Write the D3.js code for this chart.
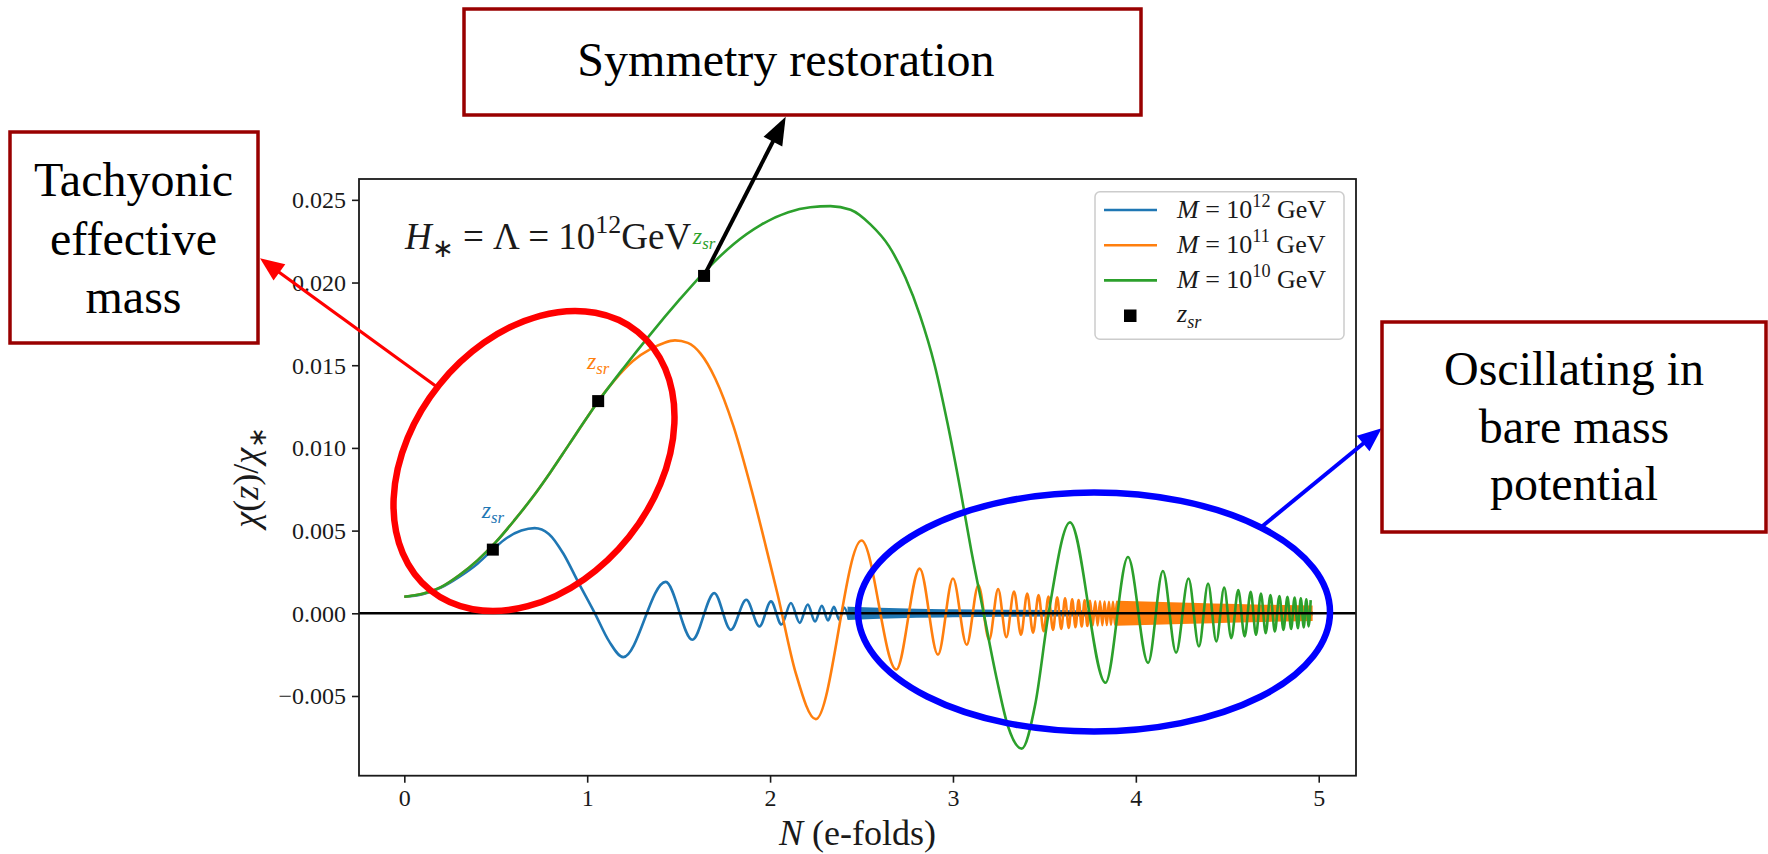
<!DOCTYPE html>
<html><head><meta charset="utf-8">
<script src="https://cdn.jsdelivr.net/npm/d3@7"></script>
<style>body{margin:0;background:#fff} svg{display:block} text{font-family:'Liberation Serif','Times New Roman',serif}</style>
</head><body>
<svg id="chart" width="1768" height="854"></svg>
<script>
// ---------------- DATA ----------------
const xTicks = [0, 1, 2, 3, 4, 5];
const yTicks = [-0.005, 0, 0.005, 0.010, 0.015, 0.020, 0.025];
const yTickLabels = ["\u22120.005", "0.000", "0.005", "0.010", "0.015", "0.020", "0.025"];
const seriesExponents = ["12", "11", "10"];
const seriesColors = ["#1f77b4", "#ff7f0e", "#2ca02c"];

// M = 10^12 GeV  [N, chi/chi*]
const blueCurve = [[0,0.0010],[0.1,0.00115],[0.2,0.00155],[0.3,0.0022],[0.4,0.0030],[0.484,0.00385],[0.56,0.00455],[0.64,0.0050],[0.713,0.00515],[0.79,0.0048],[0.87,0.0036],[0.95,0.0019],[1.042,0.0],[1.12,-0.0017],[1.197,-0.00265],
 [1.429,0.0019],[1.575,-0.0016],[1.695,0.00122],[1.785,-0.0010],[1.870,0.00082],[1.942,-0.00080],[2.005,0.00072],[2.062,-0.00068],[2.114,0.00062],[2.162,-0.00058],[2.206,0.00053],[2.246,-0.0005],[2.283,0.00046],[2.317,-0.00043],[2.349,0.0004],[2.378,-0.00038],[2.405,0.00035],[2.430,-0.00033]];
const blueBandN  = [2.43, 2.6, 2.8, 3.0, 3.3, 3.6, 4.0, 4.5, 4.96];
const blueBandHi = [0.00033,0.00026,0.0002,0.00017,0.00014,0.00012,0.0001,0.00008,0.00007];
const blueBandLo = [-0.00033,-0.00026,-0.0002,-0.00017,-0.00014,-0.00012,-0.0001,-0.00008,-0.00007];

// M = 10^11 GeV
const orangeCurve = [[0,0.0010],[0.1,0.00118],[0.2,0.00158],[0.3,0.0023],[0.4,0.0032],[0.5,0.0043],[0.6,0.0056],[0.7,0.0070],[0.8,0.00855],[0.9,0.0102],[1.0,0.01185],[1.06,0.01283],[1.15,0.0141],[1.25,0.01525],[1.35,0.0160],[1.42,0.01635],[1.48,0.0165],[1.55,0.01635],[1.62,0.0157],[1.70,0.0142],[1.80,0.0113],[1.90,0.0074],[2.0,0.0030],[2.04,0.0012],[2.14,-0.0036],[2.25,-0.0064],
 [2.50,0.0044],[2.69,-0.0034],[2.818,0.0027],[2.918,-0.0025],[3.0,0.0021],[3.075,-0.0019],[3.139,0.0017],[3.198,-0.0016],[3.247,0.00146],[3.292,-0.00145],[3.334,0.00132],[3.372,-0.0013],[3.406,0.0012],[3.438,-0.00118],[3.468,0.0011],[3.496,-0.00108],[3.522,0.00102],[3.547,-0.001],[3.570,0.00096],[3.592,-0.00094],[3.613,0.0009],[3.633,-0.00088],[3.652,0.00085],[3.670,-0.00084],[3.687,0.0008],[3.704,-0.0008],[3.720,0.00078],[3.735,-0.00077],[3.750,0.00075],
 [3.764,-0.00074],[3.778,0.00073],[3.791,-0.00073],[3.804,0.00072],[3.817,-0.00072],[3.829,0.00071],[3.841,-0.00071],[3.853,0.0007],[3.864,-0.0007],[3.875,0.00069],[3.886,-0.00069],[3.896,0.00068],[3.906,-0.00068]];
const orangeBandN  = [3.9, 4.1, 4.3, 4.5, 4.7, 4.96];
const orangeBandHi = [0.00068,0.00062,0.00056,0.0005,0.00045,0.0004];
const orangeBandLo = [-0.00068,-0.00062,-0.00056,-0.0005,-0.00045,-0.0004];

// M = 10^10 GeV
const greenCurve = [[0,0.0010],[0.1,0.00118],[0.2,0.00158],[0.3,0.0023],[0.4,0.0032],[0.5,0.0043],[0.6,0.0056],[0.7,0.0070],[0.8,0.00855],[0.9,0.0102],[1.0,0.01185],[1.06,0.0128],[1.2,0.01485],[1.35,0.01693],[1.5,0.0189],[1.639,0.02062],[1.8,0.02232],[1.95,0.02349],[2.1,0.02425],[2.22,0.02455],[2.33,0.02462],[2.44,0.0244],[2.55,0.0235],[2.65,0.0222],[2.74,0.0203],[2.82,0.0180],[2.90,0.0150],[2.97,0.0115],[3.04,0.0075],[3.10,0.0038],[3.168,0.0],[3.24,-0.0040],[3.30,-0.0068],[3.376,-0.00818],[3.45,-0.0055],[3.523,0.0],[3.64,0.0055],
 [3.834,-0.0042],[3.957,0.0034],[4.067,-0.0030],[4.148,0.00256],[4.22,-0.00238],[4.288,0.0021],[4.345,-0.0020],[4.395,0.0018],[4.44,-0.0017],[4.483,0.00155],[4.522,-0.0015],[4.56,0.0014],[4.595,-0.0014],[4.628,0.0013],[4.657,-0.0013],[4.684,0.0012],[4.71,-0.0012],[4.736,0.0011],[4.76,-0.0011],[4.785,0.00105],[4.807,-0.001],[4.829,0.001],[4.849,-0.00095],[4.868,0.00095],[4.886,-0.0009],[4.902,0.0009],[4.918,-0.00085],[4.932,0.00085],[4.945,-0.0008],[4.956,0.0008]];

// z_sr markers
const zsrN = [0.484, 1.060, 1.639];
const zsrV = [0.00385, 0.01283, 0.0204];

const boxTexts = {
  sym: ["Symmetry restoration"],
  tach: ["Tachyonic", "effective", "mass"],
  osc: ["Oscillating in", "bare mass", "potential"]
};

// ---------------- LAYOUT ----------------
const svg = d3.select("#chart");
const plot = {left: 359, right: 1356, top: 179, bottom: 775.7};
const serif = "'Liberation Serif', 'Times New Roman', serif";
const ink = "#1a1a1a";

const allN = [].concat(blueCurve.map(d=>d[0]), orangeCurve.map(d=>d[0]), greenCurve.map(d=>d[0]));
const allV = [].concat(blueCurve.map(d=>d[1]), orangeCurve.map(d=>d[1]), greenCurve.map(d=>d[1]));
const [nMin, nMax] = d3.extent(allN);
const [vMin, vMax] = d3.extent(allV);
const nPad = 0.05 * (nMax - nMin), vPad = 0.05 * (vMax - vMin);
const x = d3.scaleLinear().domain([nMin - nPad, nMax + nPad]).range([plot.left, plot.right]);
const y = d3.scaleLinear().domain([vMin - vPad, vMax + vPad]).range([plot.bottom, plot.top]);

svg.append("rect").attr("width",1768).attr("height",854).attr("fill","#fff");

const defs = svg.append("defs");
defs.append("clipPath").attr("id","clip").append("rect")
  .attr("x",plot.left).attr("y",plot.top).attr("width",plot.right-plot.left).attr("height",plot.bottom-plot.top);

const g = svg.append("g").attr("clip-path","url(#clip)");
const line = d3.line().x(d=>x(d[0])).y(d=>y(d[1])).curve(d3.curveMonotoneX);
const area = d3.area().x(d=>x(d.n)).y0(d=>y(d.lo)).y1(d=>y(d.hi)).curve(d3.curveMonotoneX);

function band(N, hi, lo){ return N.map((n,i)=>({n:n, hi:hi[i], lo:lo[i]})); }

const curves = [blueCurve, orangeCurve, greenCurve];
const bands = [band(blueBandN, blueBandHi, blueBandLo), band(orangeBandN, orangeBandHi, orangeBandLo), null];
curves.forEach((c,i)=>{
  if (bands[i]) {
    g.append("path").datum(bands[i]).attr("d", area)
      .attr("fill", seriesColors[i]).attr("stroke", seriesColors[i]).attr("stroke-width", 2.4);
  }
  g.append("path").datum(c).attr("d", line)
    .attr("fill","none").attr("stroke", seriesColors[i]).attr("stroke-width", 2.6)
    .attr("stroke-linejoin","round");
});

// zero line
g.append("line").attr("x1",plot.left).attr("x2",plot.right).attr("y1",y(0)).attr("y2",y(0))
  .attr("stroke","#000").attr("stroke-width",2.6);

// axes
const xAxis = d3.axisBottom(x).tickValues(xTicks).tickSize(7).tickPadding(6).tickFormat(d3.format("d"));
const yAxis = d3.axisLeft(y).tickValues(yTicks).tickSize(7).tickPadding(6).tickFormat((d,i)=>yTickLabels[i]);
const gx = svg.append("g").attr("transform",`translate(0,${plot.bottom})`).call(xAxis);
const gy = svg.append("g").attr("transform",`translate(${plot.left},0)`).call(yAxis);
[gx, gy].forEach(a=>{
  a.attr("font-family", serif).attr("font-size", 24);
  a.select(".domain").remove();
  a.selectAll(".tick line").attr("stroke", ink).attr("stroke-width",1.6);
  a.selectAll(".tick text").attr("fill", ink).attr("font-family", serif).attr("font-size", 24)
    .style("font-family", serif).style("font-size","24px");
});
gx.selectAll(".tick text").attr("dy","0.71em").attr("y", 13);
gy.selectAll(".tick text").attr("dy","0.33em");

svg.append("rect").attr("x",plot.left).attr("y",plot.top)
  .attr("width",plot.right-plot.left).attr("height",plot.bottom-plot.top)
  .attr("fill","none").attr("stroke",ink).attr("stroke-width",1.8);

// math-ish text helper
function mtext(parent, px, py, parts, size, anchor, fill){
  const t = parent.append("text").attr("x",px).attr("y",py).attr("font-family",serif)
    .attr("font-size",size).attr("fill",fill||ink).attr("text-anchor",anchor||"start");
  let shift = 0;
  parts.forEach(p=>{
    let target = 0, fs = size;
    if (p.sub) { target = 0.22*size; fs = 0.7*size; }
    if (p.sup) { target = -0.42*size; fs = 0.7*size; }
    const s = t.append("tspan").text(p.t).attr("font-size", fs).attr("dy", target - shift);
    if (p.i) s.attr("font-style","italic");
    shift = target;
  });
  return t;
}

// axis labels
mtext(svg, (plot.left+plot.right)/2, 845, [{t:"N",i:true},{t:" (e-folds)"}], 36, "middle");
const ylab = svg.append("g").attr("transform",`translate(258,${(plot.top+plot.bottom)/2}) rotate(-90)`);
mtext(ylab, 0, 0, [{t:"\u03c7",i:true},{t:"("},{t:"z",i:true},{t:")/"},{t:"\u03c7",i:true},{t:"\u2217",sub:true}], 36, "middle");

// H annotation
mtext(svg, 405, 249, [{t:"H",i:true},{t:"\u2217",sub:true},{t:" = \u039b = 10"},{t:"12",sup:true},{t:"GeV"}], 37, "start");

// z_sr markers + labels
zsrN.forEach((n,i)=>{
  mtext(svg, x(n), y(zsrV[i]) - 32, [{t:"z",i:true},{t:"sr",i:true,sub:true}], 24, "middle", seriesColors[i]);
});
svg.selectAll("rect.zsr").data(zsrN).enter().append("rect").attr("class","zsr")
  .attr("x",(d)=>x(d)-6).attr("y",(d,i)=>y(zsrV[i])-6).attr("width",12).attr("height",12).attr("fill","#000");

// legend
const leg = {x:1095, y:191.7, w:249, h:147.6};
svg.append("rect").attr("x",leg.x).attr("y",leg.y).attr("width",leg.w).attr("height",leg.h)
  .attr("rx",5).attr("fill","#fff").attr("fill-opacity",0.85).attr("stroke","#cccccc").attr("stroke-width",1.5);
seriesExponents.forEach((e,i)=>{
  const ly = 210 + i*35.2;
  svg.append("line").attr("x1",1104).attr("x2",1157).attr("y1",ly).attr("y2",ly)
    .attr("stroke",seriesColors[i]).attr("stroke-width",2.6);
  mtext(svg, 1177, ly+8, [{t:"M",i:true},{t:" = 10"},{t:e,sup:true},{t:" GeV"}], 26, "start");
});
svg.append("rect").attr("x",1124).attr("y",309.5).attr("width",12.5).attr("height",12.5).attr("fill","#000");
mtext(svg, 1177, 322, [{t:"z",i:true},{t:"sr",i:true,sub:true}], 26, "start");

// ---------------- OVERLAY ANNOTATIONS ----------------
const ov = svg.append("g");
ov.append("ellipse").attr("cx",534).attr("cy",461).attr("rx",165.7).attr("ry",121.6)
  .attr("transform","rotate(-51.3 534 461)").attr("fill","none").attr("stroke","#ff0000").attr("stroke-width",6.5);
ov.append("ellipse").attr("cx",1094).attr("cy",612).attr("rx",236).attr("ry",119.5)
  .attr("fill","none").attr("stroke","#0000ff").attr("stroke-width",6.5);

function arrow(x1,y1,x2,y2,color,w,hl,hw){
  const a = Math.atan2(y2-y1,x2-x1);
  const bx = x2 - hl*Math.cos(a), by = y2 - hl*Math.sin(a);
  ov.append("line").attr("x1",x1).attr("y1",y1).attr("x2",bx+(hl*0.3)*Math.cos(a)).attr("y2",by+(hl*0.3)*Math.sin(a))
    .attr("stroke",color).attr("stroke-width",w);
  const px = -Math.sin(a), py = Math.cos(a);
  ov.append("polygon").attr("points",[[x2,y2],[bx+px*hw,by+py*hw],[bx-px*hw,by-py*hw]].map(p=>p.join(",")).join(" "))
    .attr("fill",color);
}
arrow(436.7,386.7,260,258.3,"#ff0000",3.2,24,10);
arrow(x(zsrN[2]),y(zsrV[2]),785.7,116.7,"#000000",4,28,10.5);
arrow(1261.7,526.7,1381.7,428.3,"#0000ff",4,24,10);

function box(x0,y0,x1,y1,lines,cx,base0,lh){
  ov.append("rect").attr("x",x0).attr("y",y0).attr("width",x1-x0).attr("height",y1-y0)
    .attr("fill","#fff").attr("stroke","#990000").attr("stroke-width",3.5);
  lines.forEach((l,i)=>{
    ov.append("text").attr("x",cx).attr("y",base0+i*lh).attr("text-anchor","middle")
      .attr("font-family",serif).attr("font-size",48).attr("fill","#000").text(l);
  });
}
box(464,9,1141,115, boxTexts.sym, 786, 76, 0);
box(10,132,258,343, boxTexts.tach, 133.5, 196, 58.5);
box(1382,322,1766,532, boxTexts.osc, 1574, 385, 57.5);
</script>
</body></html>
